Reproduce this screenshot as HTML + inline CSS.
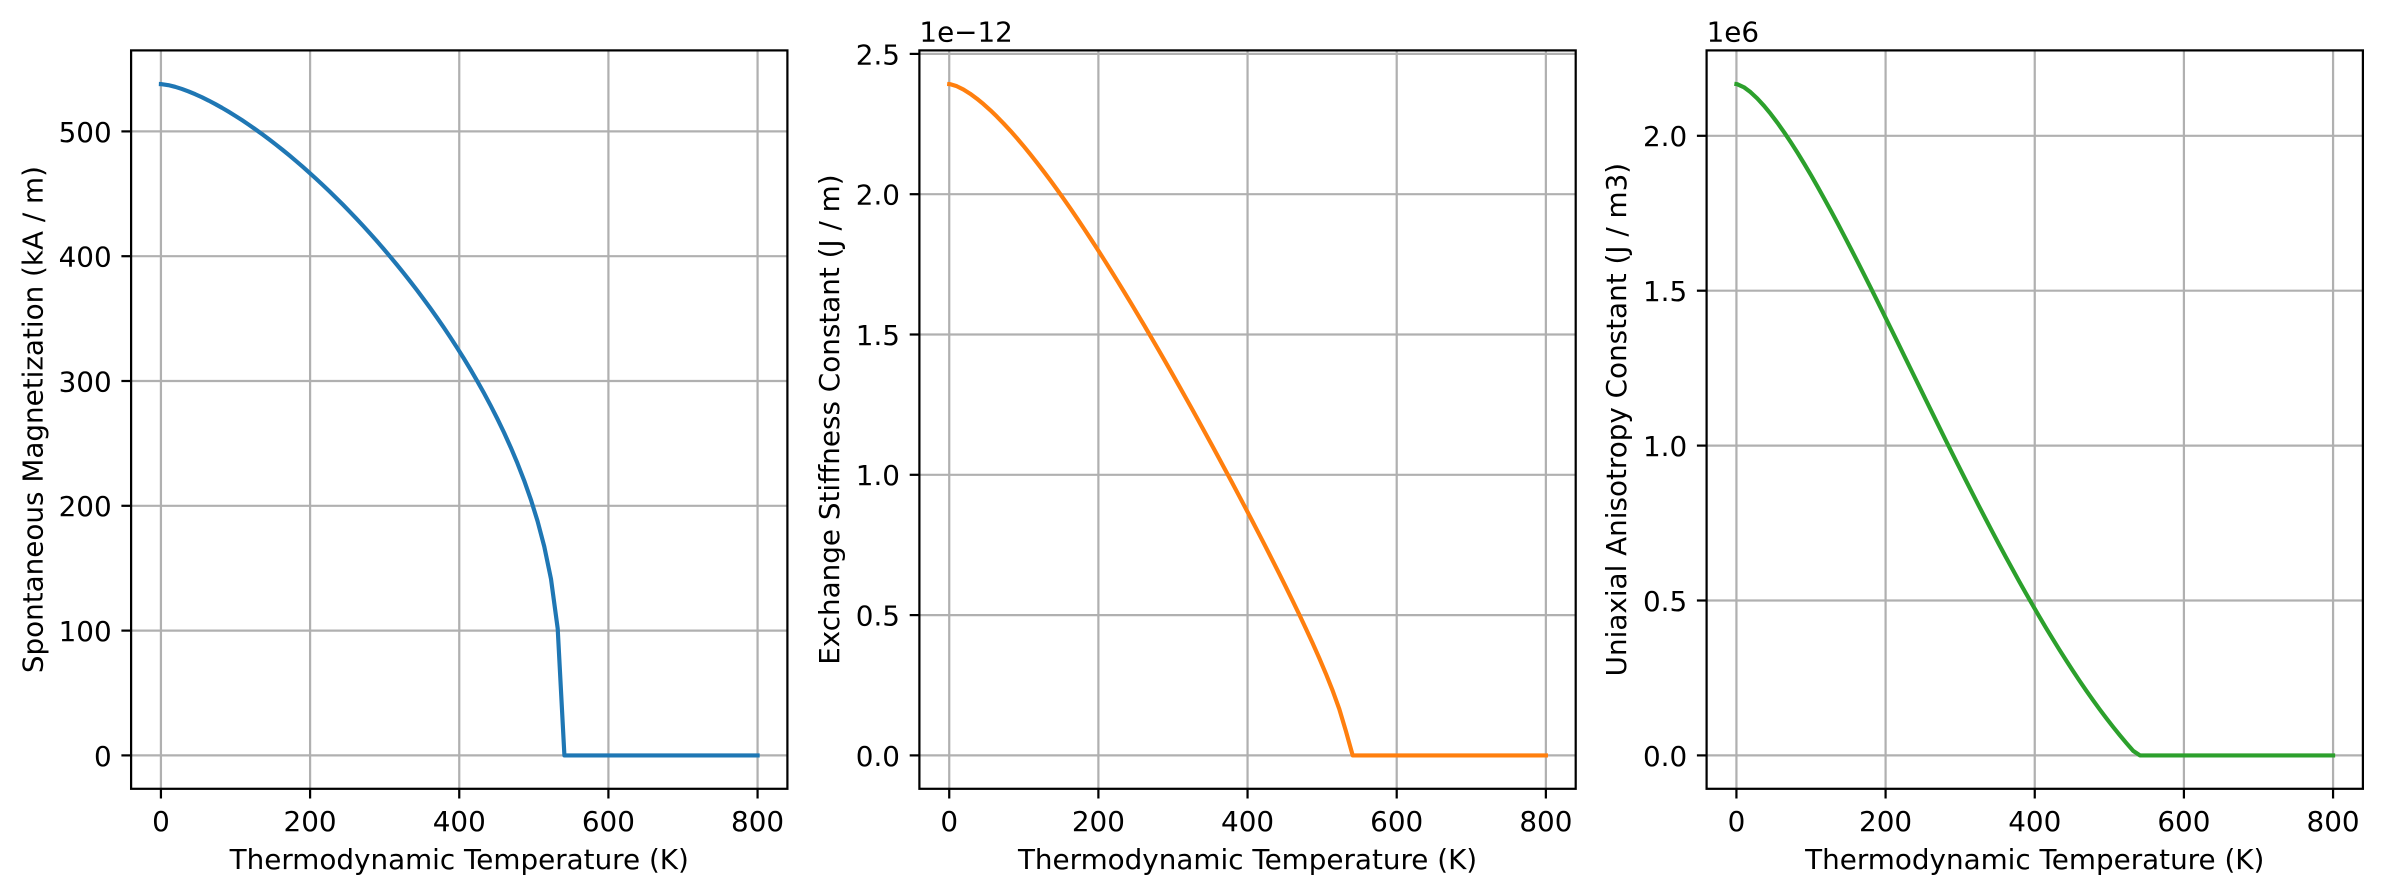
<!DOCTYPE html>
<html>
<head>
<meta charset="utf-8">
<style>
html,body{margin:0;padding:0;background:#fff;}
svg{display:block;}
text{font-family:"DejaVu Sans","Liberation Sans",sans-serif;font-size:27.8px;fill:#000;}
</style>
</head>
<body>
<svg id="fig" xmlns="http://www.w3.org/2000/svg" width="2383" height="896" viewBox="0 0 2383 896">
<rect x="0" y="0" width="2383" height="896" fill="#fff"/>
<defs>
<clipPath id="c1"><rect x="131.1" y="50.4" width="656.3" height="738.4"/></clipPath>
<clipPath id="c2"><rect x="919.4" y="50.4" width="656.3" height="738.4"/></clipPath>
<clipPath id="c3"><rect x="1706.6" y="50.4" width="656.3" height="738.4"/></clipPath>
</defs>

<!-- ================= Plot 1 ================= -->
<g stroke="#b0b0b0" stroke-width="2.22" fill="none">
<line x1="160.93" y1="50.4" x2="160.93" y2="788.8"/>
<line x1="310.09" y1="50.4" x2="310.09" y2="788.8"/>
<line x1="459.25" y1="50.4" x2="459.25" y2="788.8"/>
<line x1="608.41" y1="50.4" x2="608.41" y2="788.8"/>
<line x1="757.57" y1="50.4" x2="757.57" y2="788.8"/>
<line x1="131.1" y1="755.4" x2="787.4" y2="755.4"/>
<line x1="131.1" y1="630.6" x2="787.4" y2="630.6"/>
<line x1="131.1" y1="505.8" x2="787.4" y2="505.8"/>
<line x1="131.1" y1="381.0" x2="787.4" y2="381.0"/>
<line x1="131.1" y1="256.2" x2="787.4" y2="256.2"/>
<line x1="131.1" y1="131.4" x2="787.4" y2="131.4"/>
</g>
<path id="p1" clip-path="url(#c1)" fill="none" stroke="#1f77b4" stroke-width="4.17" stroke-linecap="square" stroke-linejoin="round" d=""/>
<rect x="131.1" y="50.4" width="656.3" height="738.4" fill="none" stroke="#000" stroke-width="2.22" stroke-linejoin="miter"/>
<g stroke="#000" stroke-width="2.22">
<line x1="160.93" y1="788.8" x2="160.93" y2="798.5"/>
<line x1="310.09" y1="788.8" x2="310.09" y2="798.5"/>
<line x1="459.25" y1="788.8" x2="459.25" y2="798.5"/>
<line x1="608.41" y1="788.8" x2="608.41" y2="798.5"/>
<line x1="757.57" y1="788.8" x2="757.57" y2="798.5"/>
<line x1="121.4" y1="755.4" x2="131.1" y2="755.4"/>
<line x1="121.4" y1="630.6" x2="131.1" y2="630.6"/>
<line x1="121.4" y1="505.8" x2="131.1" y2="505.8"/>
<line x1="121.4" y1="381.0" x2="131.1" y2="381.0"/>
<line x1="121.4" y1="256.2" x2="131.1" y2="256.2"/>
<line x1="121.4" y1="131.4" x2="131.1" y2="131.4"/>
</g>
<g text-anchor="middle">
<text x="160.93" y="831">0</text>
<text x="310.09" y="831">200</text>
<text x="459.25" y="831">400</text>
<text x="608.41" y="831">600</text>
<text x="757.57" y="831">800</text>
<text x="459.25" y="869">Thermodynamic Temperature (K)</text>
</g>
<g text-anchor="end">
<text x="111.7" y="765.8">0</text>
<text x="111.7" y="641.0">100</text>
<text x="111.7" y="516.2">200</text>
<text x="111.7" y="391.4">300</text>
<text x="111.7" y="266.6">400</text>
<text x="111.7" y="141.8">500</text>
</g>
<text text-anchor="middle" transform="translate(42.5,419.6) rotate(-90)">Spontaneous Magnetization (kA / m)</text>

<!-- ================= Plot 2 ================= -->
<g stroke="#b0b0b0" stroke-width="2.22" fill="none">
<line x1="949.23" y1="50.4" x2="949.23" y2="788.8"/>
<line x1="1098.39" y1="50.4" x2="1098.39" y2="788.8"/>
<line x1="1247.55" y1="50.4" x2="1247.55" y2="788.8"/>
<line x1="1396.71" y1="50.4" x2="1396.71" y2="788.8"/>
<line x1="1545.87" y1="50.4" x2="1545.87" y2="788.8"/>
<line x1="919.4" y1="755.4" x2="1575.7" y2="755.4"/>
<line x1="919.4" y1="615.1" x2="1575.7" y2="615.1"/>
<line x1="919.4" y1="474.8" x2="1575.7" y2="474.8"/>
<line x1="919.4" y1="334.5" x2="1575.7" y2="334.5"/>
<line x1="919.4" y1="194.2" x2="1575.7" y2="194.2"/>
<line x1="919.4" y1="53.9" x2="1575.7" y2="53.9"/>
</g>
<path id="p2" clip-path="url(#c2)" fill="none" stroke="#ff7f0e" stroke-width="4.17" stroke-linecap="square" stroke-linejoin="round" d=""/>
<rect x="919.4" y="50.4" width="656.3" height="738.4" fill="none" stroke="#000" stroke-width="2.22"/>
<g stroke="#000" stroke-width="2.22">
<line x1="949.23" y1="788.8" x2="949.23" y2="798.5"/>
<line x1="1098.39" y1="788.8" x2="1098.39" y2="798.5"/>
<line x1="1247.55" y1="788.8" x2="1247.55" y2="798.5"/>
<line x1="1396.71" y1="788.8" x2="1396.71" y2="798.5"/>
<line x1="1545.87" y1="788.8" x2="1545.87" y2="798.5"/>
<line x1="909.7" y1="755.4" x2="919.4" y2="755.4"/>
<line x1="909.7" y1="615.1" x2="919.4" y2="615.1"/>
<line x1="909.7" y1="474.8" x2="919.4" y2="474.8"/>
<line x1="909.7" y1="334.5" x2="919.4" y2="334.5"/>
<line x1="909.7" y1="194.2" x2="919.4" y2="194.2"/>
<line x1="909.7" y1="53.9" x2="919.4" y2="53.9"/>
</g>
<g text-anchor="middle">
<text x="949.23" y="831">0</text>
<text x="1098.39" y="831">200</text>
<text x="1247.55" y="831">400</text>
<text x="1396.71" y="831">600</text>
<text x="1545.87" y="831">800</text>
<text x="1247.55" y="869">Thermodynamic Temperature (K)</text>
</g>
<g text-anchor="end">
<text x="900.0" y="765.8">0.0</text>
<text x="900.0" y="625.5">0.5</text>
<text x="900.0" y="485.2">1.0</text>
<text x="900.0" y="344.9">1.5</text>
<text x="900.0" y="204.6">2.0</text>
<text x="900.0" y="64.3">2.5</text>
</g>
<text x="919.4" y="41.5">1e−12</text>
<text text-anchor="middle" transform="translate(839,419.6) rotate(-90)">Exchange Stiffness Constant (J / m)</text>

<!-- ================= Plot 3 ================= -->
<g stroke="#b0b0b0" stroke-width="2.22" fill="none">
<line x1="1736.43" y1="50.4" x2="1736.43" y2="788.8"/>
<line x1="1885.59" y1="50.4" x2="1885.59" y2="788.8"/>
<line x1="2034.75" y1="50.4" x2="2034.75" y2="788.8"/>
<line x1="2183.91" y1="50.4" x2="2183.91" y2="788.8"/>
<line x1="2333.07" y1="50.4" x2="2333.07" y2="788.8"/>
<line x1="1706.6" y1="755.4" x2="2362.9" y2="755.4"/>
<line x1="1706.6" y1="600.5" x2="2362.9" y2="600.5"/>
<line x1="1706.6" y1="445.6" x2="2362.9" y2="445.6"/>
<line x1="1706.6" y1="290.7" x2="2362.9" y2="290.7"/>
<line x1="1706.6" y1="135.8" x2="2362.9" y2="135.8"/>
</g>
<path id="p3" clip-path="url(#c3)" fill="none" stroke="#2ca02c" stroke-width="4.17" stroke-linecap="square" stroke-linejoin="round" d=""/>
<rect x="1706.6" y="50.4" width="656.3" height="738.4" fill="none" stroke="#000" stroke-width="2.22"/>
<g stroke="#000" stroke-width="2.22">
<line x1="1736.43" y1="788.8" x2="1736.43" y2="798.5"/>
<line x1="1885.59" y1="788.8" x2="1885.59" y2="798.5"/>
<line x1="2034.75" y1="788.8" x2="2034.75" y2="798.5"/>
<line x1="2183.91" y1="788.8" x2="2183.91" y2="798.5"/>
<line x1="2333.07" y1="788.8" x2="2333.07" y2="798.5"/>
<line x1="1696.9" y1="755.4" x2="1706.6" y2="755.4"/>
<line x1="1696.9" y1="600.5" x2="1706.6" y2="600.5"/>
<line x1="1696.9" y1="445.6" x2="1706.6" y2="445.6"/>
<line x1="1696.9" y1="290.7" x2="1706.6" y2="290.7"/>
<line x1="1696.9" y1="135.8" x2="1706.6" y2="135.8"/>
</g>
<g text-anchor="middle">
<text x="1736.43" y="831">0</text>
<text x="1885.59" y="831">200</text>
<text x="2034.75" y="831">400</text>
<text x="2183.91" y="831">600</text>
<text x="2333.07" y="831">800</text>
<text x="2034.75" y="869">Thermodynamic Temperature (K)</text>
</g>
<g text-anchor="end">
<text x="1687.2" y="765.8">0.0</text>
<text x="1687.2" y="610.9">0.5</text>
<text x="1687.2" y="456.0">1.0</text>
<text x="1687.2" y="301.1">1.5</text>
<text x="1687.2" y="146.2">2.0</text>
</g>
<text x="1706.6" y="41.5">1e6</text>
<text text-anchor="middle" transform="translate(1626,419.6) rotate(-90)">Uniaxial Anisotropy Constant (J / m3)</text>
</svg>
<script>
(function(){
  var Tc=537.5, s=1.85;
  function m(T){
    if(T>=Tc) return 0;
    var t=T/Tc;
    var f=1 - s*Math.pow(t,1.5) - (1-s)*Math.pow(t,2.5);
    return f>0?Math.cbrt(f):0;
  }
  var Ts=[0];
  for(var k=0;k<=60;k++){Ts.push(1+9*k);}
  Ts.push(800);
  var lefts=[131.1,919.4,1706.6];
  var pw=[1,2,3];
  for(var i=0;i<3;i++){
    var x0=lefts[i]+29.83, d="";
    for(var j=0;j<Ts.length;j++){
      var T=Ts[j];
      var v=Math.pow(m(T),pw[i]);
      var x=x0+0.74580*T, y=755.4-671.3*v;
      d+=(j?"L":"M")+x.toFixed(2)+" "+y.toFixed(2);
    }
    document.getElementById("p"+(i+1)).setAttribute("d",d);
  }
})();
</script>
</body>
</html>
